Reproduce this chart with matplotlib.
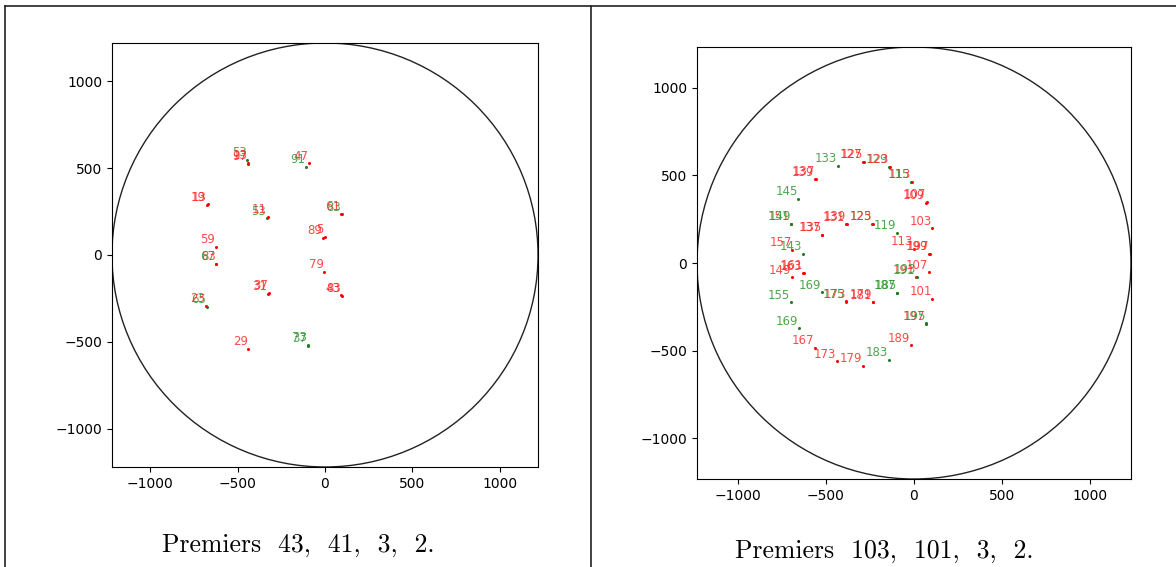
import matplotlib
matplotlib.use('Agg')
import matplotlib.pyplot as plt
from matplotlib.patches import Circle
from matplotlib.lines import Line2D

# Left panel: primes 43, 41, 3, 2
left_x = [-444, -439, -439, -109, -94, -678, -672, -333, -328, 96, 92, -13, -2, -626, -626, -622,
          -4, -326, -322, 96, 92, -678, -682, -439, -96, -100]
left_y = [546, 525, 530, 507, 527, 287, 292, 211, 220, 234, 236, 97, 106, 48, -52, -50,
          -96, -224, -218, -236, -232, -297, -293, -542, -521, -517]
left_lab = ['53', '97', '13', '91', '47', '19', '13', '53', '11', '83', '61', '89', '5', '59',
            '67', '83', '79', '31', '37', '83', '43', '65', '23', '29', '37', '73']
left_col = ['g', 'r', 'r', 'g', 'r', 'r', 'r', 'g', 'r', 'g', 'r', 'r', 'r', 'r',
            'g', 'r', 'r', 'r', 'r', 'r', 'r', 'g', 'r', 'r', 'g', 'g']

# Right panel: primes 103, 101, 3, 2
right_x = [-434, -288, -284, -142, -138, -17, -13, -562, -558, 68, 72, -657, 104, -700, -696,
           -524, -520, -386, -382, -237, -233, -98, -691, -632, 0, 85, 89, -629, -625, -691,
           85, 11, 15, -524, -700, -388, -384, -235, -231, -98, -94, 104, 66, 70, -653, -562,
           -436, -288, -142, -19]
right_y = [553, 576, 578, 547, 549, 462, 464, 477, 479, 345, 347, 364, 197, 222, 224,
           159, 161, 220, 222, 222, 224, 172, 74, 51, 80, 51, 53, -59, -57, -81,
           -53, -81, -79, -167, -225, -220, -218, -225, -223, -172, -170, -206, -347, -345,
           -373, -485, -561, -585, -551, -470]
right_lab = ['133', '127', '125', '129', '123', '115', '113', '139', '137', '109', '107', '145',
             '103', '151', '149', '137', '135', '131', '139', '125', '123', '119', '157', '143',
             '113', '199', '197', '163', '161', '149', '107', '191', '193', '169', '155', '175',
             '173', '181', '179', '187', '185', '101', '197', '195', '169', '167', '173', '179',
             '183', '189']
right_col = ['g', 'r', 'r', 'g', 'r', 'g', 'r', 'r', 'r', 'r', 'r', 'g',
             'r', 'r', 'g', 'r', 'r', 'r', 'r', 'g', 'r', 'g', 'r', 'g',
             'r', 'r', 'r', 'r', 'r', 'r', 'r', 'r', 'g', 'g', 'g', 'g',
             'r', 'r', 'r', 'g', 'g', 'r', 'r', 'g', 'g', 'r', 'r', 'r',
             'g', 'r']

captions = ['Premiers  43,  41,  3,  2.', 'Premiers  103,  101,  3,  2.']

dot_colors = {'r': '#ff0000', 'g': '#1e7d1e'}
txt_colors = {'r': '#ff2a2a', 'g': '#2e962e'}

fig = plt.figure(figsize=(11.76, 5.67), dpi=100)


def draw_panel(ax, xs, ys, labs, cols, lim):
    ax.add_patch(Circle((0, 0), lim, fill=False, edgecolor='#222222', lw=1.0))
    for x, y, lab, c in zip(xs, ys, labs, cols):
        ax.plot(x, y, 'o', ms=2.2, color=dot_colors[c], mec='none')
        ax.annotate(lab, (x, y), xytext=(-0.5, 0.5), textcoords='offset points',
                    ha='right', va='bottom', fontsize=8.5, color=txt_colors[c], alpha=0.85)
    ax.set_xlim(-lim, lim)
    ax.set_ylim(-lim, lim)
    ax.set_xticks([-1000, -500, 0, 500, 1000])
    ax.set_yticks([-1000, -500, 0, 500, 1000])
    ax.tick_params(labelsize=10)


ax1 = fig.add_axes([0.0952, 0.1764, 0.3623, 0.7478])
draw_panel(ax1, left_x, left_y, left_lab, left_col, 1220)

ax2 = fig.add_axes([0.5927, 0.1552, 0.3690, 0.7619])
draw_panel(ax2, right_x, right_y, right_lab, right_col, 1232)

# table frame around the two cells
for xy in [([5 / 1176, 1], [1 - 6 / 567, 1 - 6 / 567]),
           ([5 / 1176, 5 / 1176], [0, 1 - 6 / 567]),
           ([591 / 1176, 591 / 1176], [0, 1 - 6 / 567])]:
    fig.add_artist(Line2D(xy[0], xy[1], color='#222222', lw=1.2))

fig.text(298 / 1176, 1 - 545 / 567, captions[0], ha='center', va='center',
         fontname='cmr10', fontsize=18.5)
fig.text(884 / 1176, 1 - 551 / 567, captions[1], ha='center', va='center',
         fontname='cmr10', fontsize=18.5)

fig.savefig('out.png', dpi=100)
